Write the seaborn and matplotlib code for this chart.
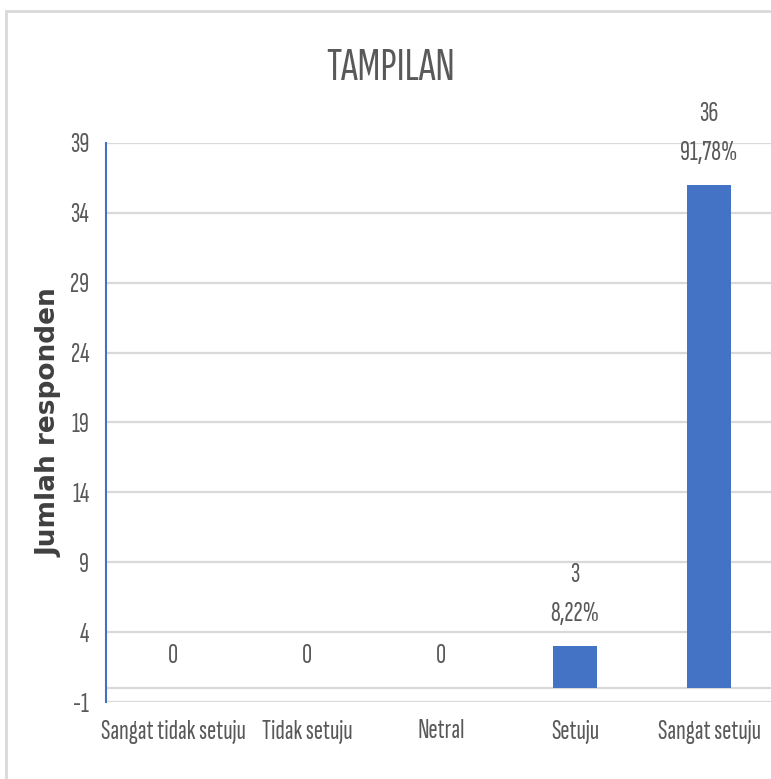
import matplotlib
matplotlib.use("Agg")
import matplotlib.pyplot as plt
import seaborn as sns
import pandas as pd
from matplotlib.patches import Rectangle

categories = ["Sangat tidak setuju", "Tidak setuju", "Netral", "Setuju", "Sangat setuju"]
counts = [0, 0, 0, 3, 36]
percent_labels = ["", "", "", "8,22%", "91,78%"]
y_ticks = [-1, 4, 9, 14, 19, 24, 29, 34, 39]
title = "TAMPILAN"
y_label = "Jumlah responden"

sns.set_theme(style="white")
FONT = ["Sofia Sans Extra Condensed", "DejaVu Sans"]
plt.rcParams['font.family'] = FONT

TEXT = "#595959"
BLUE = "#4472C4"
GRID = "#d9d9d9"

fig = plt.figure(figsize=(7.71, 7.79), dpi=100)
ax = fig.add_axes([106/771, 77/779, 670/771, 559/779])

df = pd.DataFrame({"cat": categories, "n": counts})
sns.barplot(data=df, x="cat", y="n", color=BLUE, width=0.33, ax=ax, saturation=1,
            linewidth=0, zorder=3)

ax.set_ylim(-1, 39)
ax.set_xlim(-0.5, len(categories) - 0.5)
ax.set_yticks(y_ticks)
ax.set_yticklabels([str(t) for t in y_ticks])
ax.yaxis.grid(True, color=GRID, lw=1.6, zorder=0)
ax.axhline(0, color=GRID, lw=1.6, zorder=1)
ax.set_axisbelow(True)

for s in ["top", "right", "bottom"]:
    ax.spines[s].set_visible(False)
ax.spines["left"].set_color(BLUE)
ax.spines["left"].set_linewidth(1.5)
ax.spines["left"].set_zorder(4)

ax.tick_params(axis="both", length=0, colors=TEXT, labelsize=20)
ax.tick_params(axis="y", pad=12)
ax.tick_params(axis="x", pad=12.5)
ax.set_xlabel("")
ax.set_ylabel(y_label, fontsize=19, fontweight="semibold", color="#404040",
              family=["DejaVu Sans"])
ax.yaxis.set_label_coords(-44/670, 0.5)

for i, (v, p) in enumerate(zip(counts, percent_labels)):
    txt = f"{v}\n{p}" if p else f"{v}"
    ax.annotate(txt, xy=(i, v), xytext=(0, 18), textcoords="offset points",
                ha="center", va="baseline", fontsize=20, color=TEXT, linespacing=1.8)

fig.text(391/771, 1 - 68.5/779, title, ha="center", va="center", fontsize=34, color=TEXT)

fig.patches.append(Rectangle((6/771, -0.1), 1.2, 1 - 11/779 + 0.1, transform=fig.transFigure,
                             fill=False, edgecolor=GRID, lw=2, figure=fig))

fig.savefig("out.png", dpi=100, facecolor="white")
